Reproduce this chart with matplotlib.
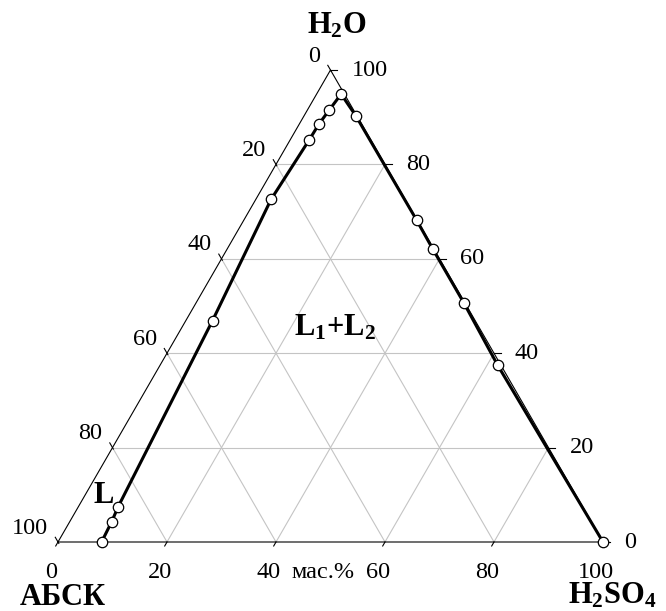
import numpy as np
import matplotlib
matplotlib.use('Agg')
import matplotlib.pyplot as plt

plt.rcParams['font.family'] = ['Liberation Serif', 'DejaVu Serif']
plt.rcParams['mathtext.fontset'] = 'custom'
plt.rcParams['mathtext.rm'] = 'Liberation Serif'
plt.rcParams['mathtext.bf'] = 'Liberation Serif:bold'
plt.rcParams['mathtext.it'] = 'Liberation Serif:italic'

# ---- data: binodal curve of the АБСК – H2SO4 – H2O system (mass %) ----
absk  = [92.0, 88.0, 85.2, 48.2, 24.6, 11.3, 7.9, 4.5, 0.6, 0.2, 0.1, 0.2, 0.2, 0.6, 0.0]
h2so4 = [8.0, 7.7, 7.3, 4.9, 2.8, 3.5, 3.6, 4.0, 4.5, 9.6, 31.7, 37.7, 49.1, 61.9, 100.0]
h2o   = [0.0, 4.3, 7.5, 46.9, 72.6, 85.2, 88.5, 91.5, 94.9, 90.2, 68.2, 62.1, 50.7, 37.5, 0.0]

ticks = [0, 20, 40, 60, 80, 100]
tick_labels = ['0', '20', '40', '60', '80', '100']
grid_vals = [20, 40, 60, 80]

vertex_labels = [r'$\mathbf{H_2O}$', 'АБСК', r'$\mathbf{H_2SO_4}$']
region_labels = [r'$\mathbf{L_1{+}L_2}$', r'$\mathbf{L}$']
unit_label = 'мас.%'

S3 = np.sqrt(3) / 2


def tern(a, s, w):
    """(АБСК, H2SO4, H2O) percents -> cartesian."""
    a = np.asarray(a, float); s = np.asarray(s, float); w = np.asarray(w, float)
    return s + w / 2.0, w * S3


PX = 5.45  # pixels per percent unit
fig = plt.figure(figsize=(6.66, 6.11), dpi=100)
ax = fig.add_axes([0, 0, 1, 1])
ax.set_xlim(-58 / PX, (666 - 58) / PX)
ax.set_ylim(-69 / PX, (611 - 69) / PX)
ax.axis('off')

grid_c = '#c4c4c4'
# grid lines
for v in grid_vals:
    # constant H2O (horizontal)
    x, y = tern([100 - v, 0], [0, 100 - v], [v, v])
    ax.plot(x, y, color=grid_c, lw=0.8, zorder=1)
    # constant H2SO4
    x, y = tern([100 - v, 0], [v, v], [0, 100 - v])
    ax.plot(x, y, color=grid_c, lw=0.8, zorder=1)
    # constant АБСК
    x, y = tern([v, v], [100 - v, 0], [0, 100 - v])
    ax.plot(x, y, color=grid_c, lw=0.8, zorder=1)

# triangle
x, y = tern([100, 0, 0, 100], [0, 100, 0, 0], [0, 0, 100, 0])
ax.plot(x, y, color='black', lw=0.8, zorder=2)

pt = 72 / 100.0  # points per pixel
# ticks and labels
for v, lab in zip(ticks, tick_labels):
    # left axis: АБСК, value v (tick along constant-АБСК direction, outward)
    x0, y0 = tern(v, 0, 100 - v)
    ax.plot([x0 + 0.3 * 0.5, x0 - 1.0 * 0.5], [y0 - 0.3 * S3, y0 + 1.0 * S3],
            color='black', lw=0.8, zorder=2)
    ax.annotate(lab, (x0, y0), xytext=(-10 * pt, 14 * pt), textcoords='offset points',
                ha='right', va='center', fontsize=17.5)
    # right axis: H2O, value v
    x0, y0 = tern(0, 100 - v, v)
    ax.plot([x0, x0 + 1.2], [y0, y0], color='black', lw=0.8, zorder=2)
    ax.annotate(lab, (x0, y0), xytext=(21 * pt, 0), textcoords='offset points',
                ha='left', va='center', fontsize=17.5)
    # bottom axis: H2SO4, value v
    x0, y0 = tern(100 - v, v, 0)
    ax.plot([x0, x0 - 0.42], [y0, y0 - 0.73], color='black', lw=0.8, zorder=2)
    ax.annotate(lab, (x0, y0), xytext=(-7 * pt, -30 * pt), textcoords='offset points',
                ha='center', va='center', fontsize=17.5)

# unit label
x0, y0 = tern(50, 50, 0)
ax.annotate(unit_label, (x0, y0), xytext=(-7 * pt, -30 * pt), textcoords='offset points',
            ha='center', va='center', fontsize=17.5)

# vertex labels
x0, y0 = tern(0, 0, 100)
ax.annotate(vertex_labels[0], (x0, y0), xytext=(6 * pt, 37 * pt), textcoords='offset points',
            ha='center', va='baseline', fontsize=22)
x0, y0 = tern(100, 0, 0)
ax.annotate(vertex_labels[1], (x0, y0), xytext=(4.5 * pt, -63 * pt), textcoords='offset points',
            ha='center', va='baseline', fontsize=22, fontweight='bold')
x0, y0 = tern(0, 100, 0)
ax.annotate(vertex_labels[2], (x0, y0), xytext=(-35 * pt, -61 * pt), textcoords='offset points',
            ha='left', va='baseline', fontsize=22, annotation_clip=False)

# region labels
x0, y0 = tern(27.25, 28.9, 43.85)
ax.text(x0, y0, region_labels[0], ha='center', va='baseline', fontsize=22)
x0, y0 = tern(87.46, 4.34, 8.2)
ax.text(x0, y0, region_labels[1], ha='center', va='baseline', fontsize=22)

# binodal curve
cx, cy = tern(absk, h2so4, h2o)
ax.plot(cx, cy, color='black', lw=2.2, zorder=3, solid_joinstyle='round')
ax.plot(cx, cy, linestyle='none', marker='o', ms=7.5, mfc='white', mec='black', mew=0.9, zorder=4)

fig.savefig('out.png', dpi=100)
